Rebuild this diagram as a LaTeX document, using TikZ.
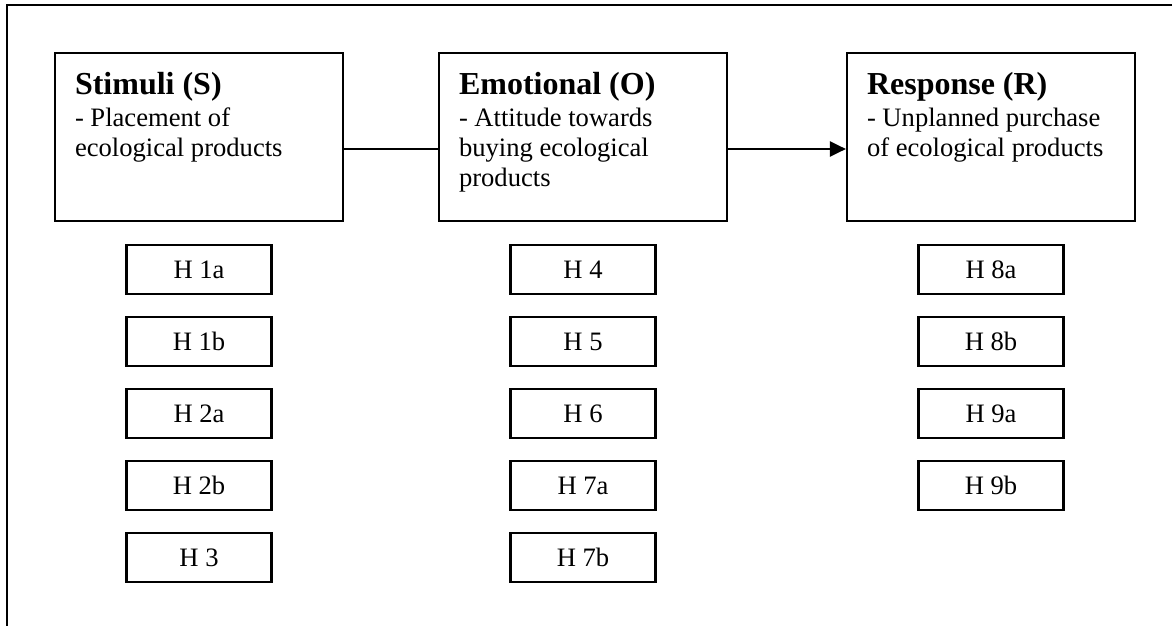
\documentclass[tikz,border=0pt]{standalone}
\usepackage{fontspec}
\setmainfont{Liberation Serif}
\usetikzlibrary{positioning, arrows.meta}

\tikzset{
  stage/.style={draw, minimum width=144pt, minimum height=84pt, inner sep=0pt},
  hyp/.style={draw, minimum width=72.5pt, minimum height=24.5pt, inner sep=0pt, font=\fontsize{13.3}{15}\selectfont}
}
\newcommand{\stagetext}[2]{\parbox[t][84pt][t]{144pt}{\leftskip=10pt\rightskip=0pt plus 1fil\parindent=0pt
  {\fontsize{16}{19}\selectfont\bfseries\rule{0pt}{21pt}#1\par}
  \vspace{1pt}{\fontsize{13.3}{15}\selectfont #2\par}}}

\begin{document}
\begin{tikzpicture}[x=0.5pt, y=-0.5pt, node distance=36pt, on grid, line width=1.1pt]
  \useasboundingbox (0,0) rectangle (1176,626);
  \draw (1172,5) -- (7,5) -- (7,626);

  \node[stage] (s) at (199,137) {\stagetext{Stimuli (S)}{- Placement of\\ecological products}};
  \node[stage] (o) [right=192pt of s] {\stagetext{Emotional (O)}{- Attitude towards\\buying ecological\\products}};
  \node[stage] (r) [right=204pt of o] {\stagetext{Response (R)}{- Unplanned purchase\\of ecological products}};

  \node[hyp] (h1a) [below=66.25pt of s] {H 1a};
  \node[hyp] (h1b) [below=of h1a] {H 1b};
  \node[hyp] (h2a) [below=of h1b] {H 2a};
  \node[hyp] (h2b) [below=of h2a] {H 2b};
  \node[hyp] (h3) [below=of h2b] {H 3};

  \node[hyp] (h4) [below=66.25pt of o] {H 4};
  \node[hyp] (h5) [below=of h4] {H 5};
  \node[hyp] (h6) [below=of h5] {H 6};
  \node[hyp] (h7a) [below=of h6] {H 7a};
  \node[hyp] (h7b) [below=of h7a] {H 7b};

  \node[hyp] (h8a) [below=66.25pt of r] {H 8a};
  \node[hyp] (h8b) [below=of h8a] {H 8b};
  \node[hyp] (h9a) [below=of h8b] {H 9a};
  \node[hyp] (h9b) [below=of h9a] {H 9b};

  \draw ([yshift=-6pt]s.east) -- ([yshift=-6pt]o.west);
  \draw[-{Triangle[length=8pt,width=7.5pt]}] ([yshift=-6pt]o.east) -- ([yshift=-6pt]r.west);
\end{tikzpicture}
\end{document}
